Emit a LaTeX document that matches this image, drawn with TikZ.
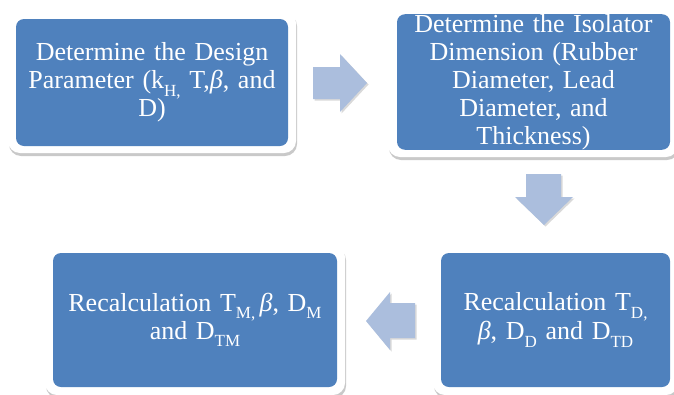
\documentclass[tikz,border=0pt]{standalone}
\usepackage{fontspec}
\setmainfont{Liberation Serif}
\usetikzlibrary{shadows}
\definecolor{boxblue}{HTML}{4F81BD}
\definecolor{arrowblue}{HTML}{ABBEDD}
\newcommand{\mysub}[1]{\raisebox{-0.28em}{\fontsize{17}{17}\selectfont #1}}
\tikzset{
  frame/.style={fill=white, rounded corners=12pt, inner sep=0pt,
    drop shadow={shadow xshift=1pt, shadow yshift=-3pt, opacity=0.3, fill=black!70}},
  bluebox/.style={fill=boxblue, rounded corners=8pt, inner sep=0pt, text=white,
    align=center, font=\fontsize{26}{28}\selectfont},
  blockarrow/.style={fill=arrowblue,
    drop shadow={shadow xshift=1.5pt, shadow yshift=-1.5pt, opacity=0.25, fill=black!60}}
}
\begin{document}
\begin{tikzpicture}[x=1pt,y=-1pt]
\useasboundingbox (0,0) rectangle (674,394);
% box 1
\node[frame, minimum width=288pt, minimum height=142pt] (f1) at (152,82) {};
\node[bluebox, minimum width=272pt, minimum height=127pt, text width=268pt] (b1) at (152,82.5)
  {Determine the Design\\Parameter (k\mysub{H,} T,\textit{β}, and\\D)};
% box 2
\node[frame, minimum width=290pt, minimum height=150pt] (f2) at (533,82) {};
\node[bluebox, minimum width=273pt, minimum height=134pt, text width=269pt] (b2) at (533.5,82)
  {Determine the Isolator\\Dimension (Rubber\\Diameter, Lead\\Diameter, and\\Thickness)};
% box 3
\node[frame, minimum width=300pt, minimum height=150pt] (f3) at (195,320) {};
\node[bluebox, minimum width=284pt, minimum height=134pt, text width=280pt] (b3) at (195,320)
  {Recalculation T\mysub{M,}\,\textit{β}, D\mysub{M}\\and D\mysub{TM}};
% box 4
\node[frame, minimum width=245pt, minimum height=150pt] (f4) at (555.5,320) {};
\node[bluebox, minimum width=229pt, minimum height=134pt, text width=225pt] (b4) at (555.5,320)
  {Recalculation T\mysub{D,}\\\textit{β}, D\mysub{D} and D\mysub{TD}};
% arrows
\fill[blockarrow] (313,67) -- (340,67) -- (340,54) -- (367,83) -- (340,112) -- (340,99) -- (313,99) -- cycle;
\fill[blockarrow] (526,174) -- (561,174) -- (561,197) -- (573,197) -- (544,225) -- (515,197) -- (526,197) -- cycle;
\fill[blockarrow] (415,303) -- (390,303) -- (390,292) -- (366,321) -- (390,350) -- (390,338) -- (415,338) -- cycle;
\end{tikzpicture}
\end{document}
